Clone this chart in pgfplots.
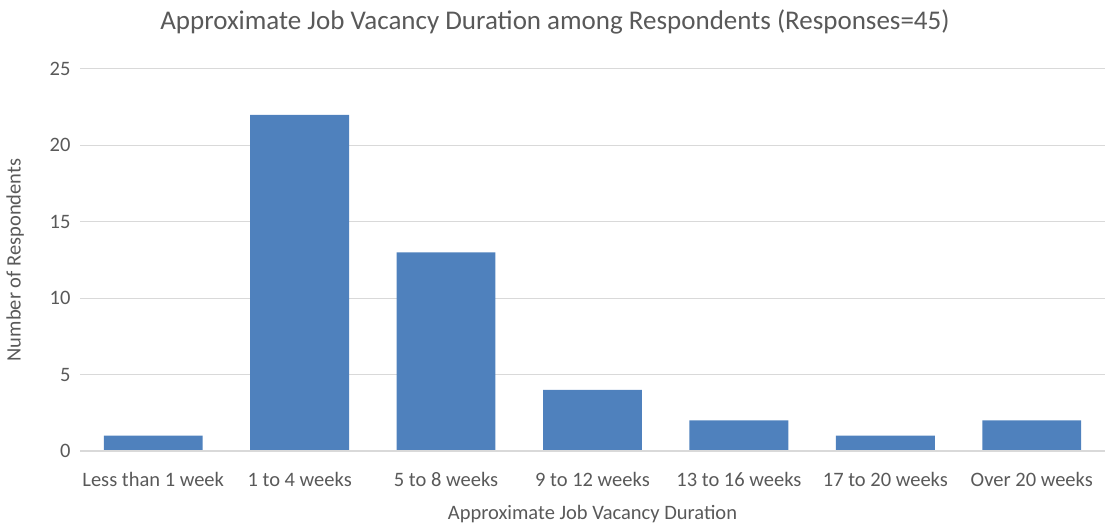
\documentclass[border=0pt]{standalone}
\usepackage{pgfplots}
\pgfplotsset{compat=1.18}
\usepackage{fontspec}
\setmainfont{Carlito}
\definecolor{txt}{RGB}{89,89,89}
\definecolor{gridc}{RGB}{217,217,217}
\definecolor{barc}{RGB}{79,129,189}
\begin{document}
\begin{tikzpicture}[x=1pt,y=1pt]
\begin{axis}[
  at={(0,0)}, anchor=south west,
  scale only axis,
  width=1025pt, height=382pt,
  xmin=-0.5, xmax=6.5,
  ymin=0, ymax=25,
  ytick={0,5,10,15,20,25},
  xtick={0,1,2,3,4,5,6},
  xticklabels={Less than 1 week,1 to 4 weeks,5 to 8 weeks,9 to 12 weeks,13 to 16 weeks,17 to 20 weeks,Over 20 weeks},
  ymajorgrids,
  grid style={gridc, line width=1pt},
  axis line style={draw=none},
  axis x line*=bottom,
  axis y line*=left,
  major tick length=0pt,
  ticklabel style={font=\fontsize{20.5}{24}\selectfont, text=txt},
  /pgf/number format/assume math mode=true,
  yticklabel style={xshift=-6pt},
  xticklabel style={yshift=-18pt},
  xlabel={Approximate Job Vacancy Duration},
  ylabel={Number of Respondents},
  label style={font=\fontsize{20.5}{24}\selectfont, text=txt},
  xlabel style={yshift=-11pt},
  ylabel style={yshift=19pt},
  clip=false,
]
\addplot[ybar, bar width=0.675, fill=barc, draw=none] coordinates {
(0,1) (1,22) (2,13) (3,4) (4,2) (5,1) (6,2)
};
\draw[gridc, line width=1.5pt] (axis cs:-0.5,0) -- (axis cs:6.5,0);
\end{axis}
\pgfresetboundingbox
\path (-80,-71) rectangle (1027,451);
\node[text=txt, font=\fontsize{27}{32}\selectfont] at (475,429) {Approximate Job Vacancy Duration among Respondents (Responses=45)};
\end{tikzpicture}
\end{document}
